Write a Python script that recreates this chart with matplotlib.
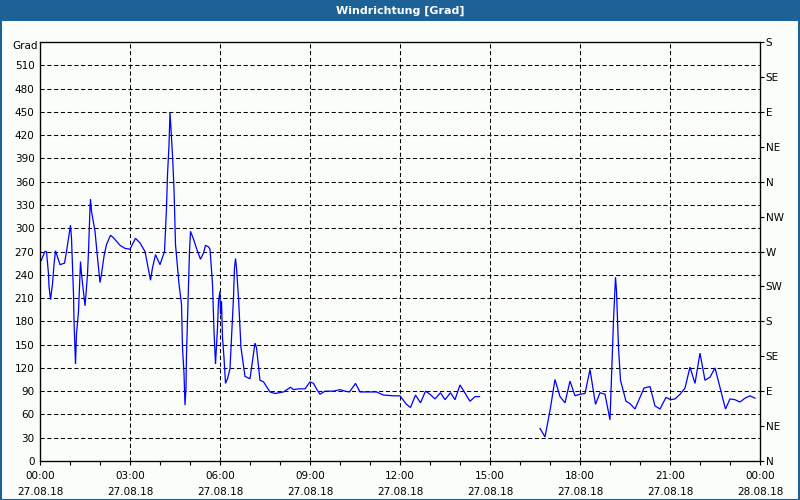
import numpy as np
import matplotlib
matplotlib.use("Agg")
import matplotlib.pyplot as plt
from matplotlib.patches import Rectangle

# ---- data (minutes after 27.08.18 00:00, wind direction in degrees) ----
minutes_1 = [2, 10, 13, 17, 18, 21, 25, 28, 31, 40, 49, 53, 57, 61, 63, 65, 67, 68, 70, 71,
             73, 77, 80, 81, 83, 87, 90, 92, 95, 97, 100, 101, 103, 110, 115, 120, 123, 128,
             133, 141, 148, 160, 170, 180, 191, 200, 210, 215, 221, 225, 231, 240, 249, 253,
             255, 258, 260, 262, 265, 268, 271, 278, 283, 285, 288, 290, 292, 293, 297, 299,
             301, 307, 313, 321, 327, 331, 337, 340, 345, 348, 351, 355, 357, 360, 361, 363,
             365, 368, 371, 375, 380, 383, 387, 389, 391, 393, 397, 402, 410, 420, 425, 430,
             433, 440, 447, 460, 470, 487, 501, 507, 517, 530, 540, 547, 553, 560, 570, 587,
             600, 610, 619, 631, 640, 673, 687, 707, 720, 727, 733, 741, 751, 761, 771, 780,
             790, 801, 810, 821, 830, 840, 860, 870, 879]
degrees_1 = [258, 270, 270, 241, 225, 208, 228, 253, 271, 253, 255, 270, 287, 304, 287, 251,
             215, 181, 142, 125, 164, 193, 241, 257, 241, 217, 200, 215, 241, 270, 326, 337,
             322, 296, 262, 230, 241, 264, 279, 291, 287, 278, 274, 273, 287, 281, 270, 253,
             233, 249, 266, 253, 270, 326, 369, 407, 449, 428, 394, 351, 279, 228, 202, 146,
             113, 72, 95, 138, 223, 270, 296, 286, 274, 260, 268, 278, 276, 273, 228, 168,
             125, 172, 206, 219, 189, 206, 159, 133, 100, 106, 119, 159, 211, 249, 261, 249,
             210, 146, 109, 106, 129, 152, 146, 104, 102, 89, 87, 89, 95, 92, 93, 93, 102,
             100, 93, 86, 90, 90, 92, 90, 89, 100, 89, 89, 85, 84, 84, 78, 73, 69, 85, 75,
             90, 86, 80, 88, 79, 88, 79, 98, 77, 83, 83]

minutes_2 = [1000, 1010, 1020, 1030, 1040, 1050, 1060, 1070, 1080, 1090, 1100, 1111, 1120,
             1130, 1140, 1143, 1147, 1151, 1153, 1157, 1161, 1172, 1180, 1190, 1200, 1208,
             1220, 1230, 1240, 1252, 1261, 1270, 1280, 1290, 1300, 1310, 1320, 1330, 1340,
             1350, 1360, 1371, 1380, 1390, 1400, 1410, 1420, 1430]
degrees_2 = [42, 31, 65, 105, 83, 75, 103, 84, 86, 87, 118, 73, 88, 86, 53, 108, 181, 237,
             219, 146, 104, 77, 74, 67, 82, 94, 96, 71, 67, 82, 79, 80, 86, 94, 121, 100, 139,
             104, 108, 120, 95, 67, 80, 79, 76, 81, 84, 81]

x_tick_hours = [0, 3, 6, 9, 12, 15, 18, 21, 24]
x_tick_labels = ["00:00\n27.08.18", "03:00\n27.08.18", "06:00\n27.08.18", "09:00\n27.08.18",
                 "12:00\n27.08.18", "15:00\n27.08.18", "18:00\n27.08.18", "21:00\n27.08.18",
                 "00:00\n28.08.18"]
y_ticks = list(range(0, 511, 30))
right_ticks = list(range(0, 541, 45))
right_labels = ["N", "NE", "E", "SE", "S", "SW", "W", "NW", "N", "NE", "E", "SE", "S"]

title = "Windrichtung [Grad]"
blue_frame = "#1c6296"
bg = "#fbfdfb"

# ---- figure ----
fig = plt.figure(figsize=(8, 5), dpi=100, facecolor=bg)
W, H = 800, 500
ax = fig.add_axes([40 / W, (H - 461) / H, 720 / W, (461 - 42) / H], facecolor=bg)

x = np.array(minutes_1 + [np.nan] + minutes_2, dtype=float) / 60.0
y = np.array(degrees_1 + [np.nan] + degrees_2, dtype=float)
ax.plot(x, y, color="#0000ff", lw=0.9, solid_joinstyle="miter")

ax.set_xlim(0, 24)
ax.set_ylim(0, 540)
ax.set_xticks(x_tick_hours)
ax.set_xticklabels(x_tick_labels, fontsize=7.5, linespacing=1.75)
ax.set_xticks(np.arange(0, 25, 1), minor=True)
ax.set_yticks(y_ticks)
ax.set_yticklabels([str(v) for v in y_ticks], fontsize=7.5)

ax.tick_params(axis="x", which="both", direction="out", length=3, width=0.8, pad=4)
ax.tick_params(axis="y", length=0, pad=4)

ax.grid(True, which="major", color="black", lw=0.75, ls=(0, (4, 2.5)))
for s in ax.spines.values():
    s.set_linewidth(0.9)
    s.set_color("black")

ax2 = ax.twinx()
ax2.set_ylim(0, 540)
ax2.set_yticks(right_ticks)
ax2.set_yticklabels(right_labels, fontsize=7.5)
ax2.tick_params(axis="y", direction="out", length=3, width=0.8, pad=1)

fig.text(25 / W, (H - 46) / H, "Grad", fontsize=7.5, ha="center", va="center")

# title bar and border
fig.patches.append(Rectangle((0, (H - 21) / H), 1, 21 / H, transform=fig.transFigure,
                             facecolor=blue_frame, edgecolor="none", zorder=0))
fig.patches.append(Rectangle((0.5 / W, 0.5 / H), (W - 1.5) / W, (H - 1) / H,
                             transform=fig.transFigure, facecolor="none",
                             edgecolor=blue_frame, lw=1.5, zorder=5))
fig.text(0.5, (H - 10.5) / H, title, color="white", fontsize=8, fontweight="bold",
         ha="center", va="center")

fig.savefig("out.png", dpi=100, facecolor=bg)
